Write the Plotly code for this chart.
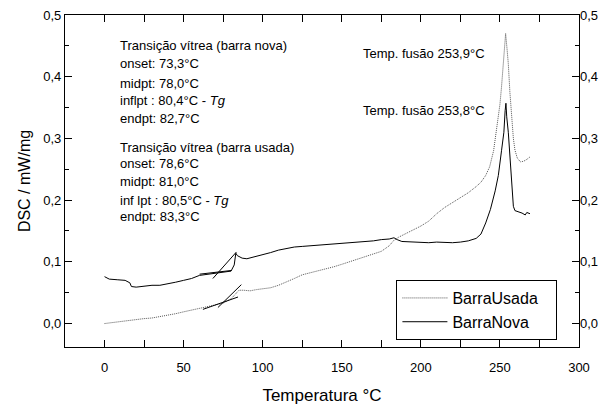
import plotly.graph_objects as go

# BarraNova (solid)
nova_T = [0, 3, 8, 13, 16, 17, 20, 25, 30, 35, 40, 45, 50, 55, 60, 65, 70, 75, 80, 82, 83, 84, 87, 90,
          95, 100, 105, 110, 115, 120, 125, 130, 135, 140, 145, 150, 155, 160, 165, 170, 175, 180, 183,
          185, 188, 195, 200, 205, 210, 215, 220, 225, 230, 235, 238, 241, 244, 247, 249, 251, 252.5,
          253.3, 253.8, 254.3, 255.3, 256.5, 257.4, 258.5, 259.5, 262, 264, 266, 267, 269]
nova_v = [0.076, 0.072, 0.071, 0.070, 0.066, 0.060, 0.059, 0.061, 0.062, 0.062, 0.064, 0.067, 0.070,
          0.073, 0.078, 0.080, 0.082, 0.083, 0.085, 0.095, 0.114, 0.110, 0.106, 0.105, 0.108, 0.112,
          0.115, 0.119, 0.122, 0.124, 0.125, 0.126, 0.127, 0.127, 0.129, 0.130, 0.130, 0.131, 0.132,
          0.134, 0.136, 0.137, 0.139, 0.136, 0.133, 0.132, 0.131, 0.131, 0.132, 0.131, 0.131, 0.132,
          0.134, 0.138, 0.145, 0.163, 0.185, 0.215, 0.240, 0.280, 0.310, 0.345, 0.357, 0.335, 0.310,
          0.265, 0.235, 0.190, 0.183, 0.181, 0.179, 0.176, 0.180, 0.178]

# BarraUsada (dotted)
usada_T = [0, 3, 8, 13, 18, 25, 30, 35, 40, 45, 50, 55, 60, 65, 70, 75, 80, 83, 85, 88, 92, 96, 100,
           105, 110, 115, 120, 125, 130, 135, 140, 145, 150, 155, 160, 165, 170, 175, 180, 183, 186,
           190, 195, 200, 205, 210, 215, 220, 225, 230, 235, 238, 241, 243.5, 246, 248, 250, 251,
           252.5, 253.6, 254.5, 255.3, 256.3, 257.4, 258.5, 259.5, 261, 263, 265, 267, 269]
usada_v = [0.000, 0.001, 0.003, 0.005, 0.006, 0.008, 0.009, 0.011, 0.013, 0.016, 0.019, 0.022, 0.024,
           0.027, 0.030, 0.033, 0.040, 0.048, 0.054, 0.054, 0.053, 0.055, 0.056, 0.058, 0.062, 0.067,
           0.073, 0.079, 0.082, 0.085, 0.088, 0.092, 0.096, 0.100, 0.104, 0.108, 0.112, 0.117, 0.126,
           0.135, 0.140, 0.145, 0.151, 0.158, 0.166, 0.178, 0.188, 0.196, 0.204, 0.212, 0.222, 0.229,
           0.240, 0.254, 0.280, 0.315, 0.355, 0.383, 0.430, 0.470, 0.445, 0.421, 0.375, 0.330, 0.300,
           0.281, 0.268, 0.262, 0.263, 0.266, 0.270]

# Tangent lines for glass transition
tan_nova_base_T = [60.1, 80.2]
tan_nova_base_v = [0.080, 0.086]
tan_nova_steep_T = [68.5, 83.4]
tan_nova_steep_v = [0.073, 0.116]
tan_usada_base_T = [62.2, 84.4]
tan_usada_base_v = [0.023, 0.043]
tan_usada_steep_T = [71.7, 86.5]
tan_usada_steep_v = [0.026, 0.063]

x_ticks = [0, 50, 100, 150, 200, 250, 300]
y_ticks = [0.0, 0.1, 0.2, 0.3, 0.4, 0.5]

notes_nova = ["Transição vítrea (barra nova)", "onset: 73,3°C", "midpt: 78,0°C",
              "inflpt : 80,4°C - <i>Tg</i>", "endpt: 82,7°C"]
notes_usada = ["Transição vítrea (barra usada)", "onset: 78,6°C", "midpt: 81,0°C",
               "inf lpt : 80,5°C - <i>Tg</i>", "endpt: 83,3°C"]
notes_nova_y = [0.451, 0.421, 0.389, 0.362, 0.332]
notes_usada_y = [0.286, 0.259, 0.230, 0.200, 0.173]

FONT = "Arial"
XR = [-25, 300]
YR = [-0.038, 0.5]

fig = go.Figure()
fig.add_trace(go.Scatter(x=usada_T, y=usada_v, mode="lines", name="BarraUsada   ",
                         line=dict(color="#555555", width=1, dash="1px,1px")))
fig.add_trace(go.Scatter(x=nova_T, y=nova_v, mode="lines", name="BarraNova   ",
                         line=dict(color="black", width=1)))
for tx, tv in [(tan_nova_base_T, tan_nova_base_v), (tan_nova_steep_T, tan_nova_steep_v),
               (tan_usada_base_T, tan_usada_base_v), (tan_usada_steep_T, tan_usada_steep_v)]:
    fig.add_trace(go.Scatter(x=tx, y=tv, mode="lines", showlegend=False,
                             line=dict(color="black", width=1)))
# invisible trace for right axis
fig.add_trace(go.Scatter(x=[XR[0]], y=[YR[0]], yaxis="y2", mode="markers",
                         marker=dict(opacity=0), showlegend=False, hoverinfo="skip"))

for txt, yv in zip(notes_nova + notes_usada, notes_nova_y + notes_usada_y):
    fig.add_annotation(x=8.2, y=yv, xref="x", yref="y", text=txt, showarrow=False,
                       xanchor="left", yanchor="middle", font=dict(size=13, color="black", family=FONT))

fig.add_annotation(x=241.6, y=0.4376, text="Temp. fusão 253,9°C", showarrow=False,
                   xanchor="right", yanchor="middle", font=dict(size=13, color="black", family=FONT))
fig.add_annotation(x=241.6, y=0.3457, text="Temp. fusão 253,8°C", showarrow=False,
                   xanchor="right", yanchor="middle", font=dict(size=13, color="black", family=FONT))

fig.update_layout(
    width=606, height=405,
    margin=dict(l=65, r=27, t=15, b=58),
    paper_bgcolor="white", plot_bgcolor="white",
    font=dict(family=FONT, size=13, color="black"),
    separators=",.",
    showlegend=True,
    legend=dict(x=0.958, y=0.021, xanchor="right", yanchor="bottom",
                bordercolor="black", borderwidth=1, bgcolor="white",
                font=dict(size=16, family=FONT), tracegroupgap=0, itemwidth=45),
    xaxis=dict(range=XR, tickvals=x_ticks, ticks="inside", ticklen=7, tickwidth=1,
               tickcolor="black", showline=True, linecolor="black", linewidth=1.3,
               mirror="allticks", showgrid=False, zeroline=False, ticklabelstandoff=8,
               automargin=False,
               minor=dict(dtick=25, tick0=0, ticks="inside", ticklen=4, tickcolor="black", showgrid=False),
               title=dict(text="Temperatura °C", font=dict(size=17), standoff=16),
               tickfont=dict(size=13)),
    yaxis=dict(range=YR, tickvals=y_ticks, tickformat=".1f", ticks="inside", ticklen=7, tickwidth=1,
               tickcolor="black", showline=True, linecolor="black", linewidth=1.3,
               mirror="allticks", showgrid=False, zeroline=False, automargin=False,
               minor=dict(dtick=0.05, tick0=0, ticks="inside", ticklen=4, tickcolor="black", showgrid=False),
               title=dict(text="DSC / mW/mg", font=dict(size=16), standoff=8),
               tickfont=dict(size=13)),
    yaxis2=dict(range=YR, overlaying="y", side="right", tickvals=y_ticks, tickformat=".1f",
                automargin=False,
                ticks="", showline=False, showgrid=False, zeroline=False, tickfont=dict(size=13)),
)

fig.write_html("out.html")
